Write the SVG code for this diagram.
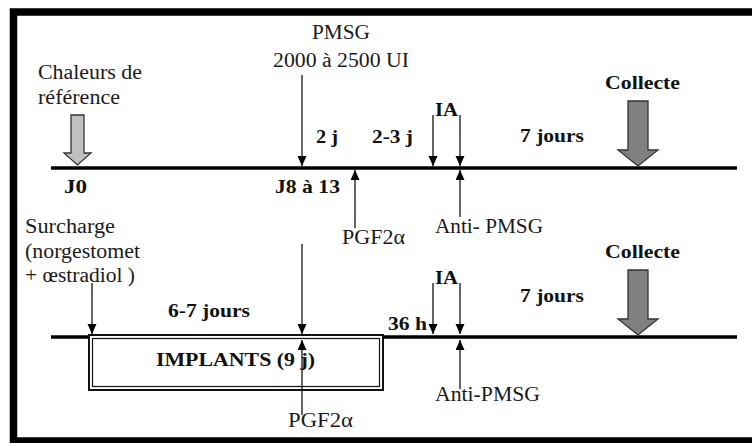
<svg xmlns="http://www.w3.org/2000/svg" width="752" height="443" viewBox="0 0 752 443">
<style>
.n{font-family:"Liberation Serif","Times New Roman",serif;font-size:20px;fill:#1a1a1a}
.b{font-family:"Liberation Serif","Times New Roman",serif;font-size:19px;font-weight:bold;fill:#111}
.tl{stroke:#000;stroke-width:3.5}
.ar{stroke:#333;stroke-width:1.5;fill:none}
.dn{marker-end:url(#ah)}
</style>
<defs>
<marker id="ah" markerUnits="userSpaceOnUse" markerWidth="11" markerHeight="10" refX="10" refY="4.5" orient="auto">
<path d="M0,0 L10,4.5 L0,9 z" fill="#000"/>
</marker>
</defs>
<rect x="0" y="0" width="752" height="443" fill="#fff"/>
<rect id="frame" x="13.5" y="12" width="760" height="429" fill="none" stroke="#000" stroke-width="7.5"/>

<g id="timeline-top">
<line class="tl" x1="51" y1="168" x2="737" y2="168"/>
</g>
<g id="timeline-bottom">
<line class="tl" x1="51" y1="337" x2="89" y2="337"/>
<line class="tl" x1="383" y1="337" x2="737" y2="337"/>
</g>

<g id="connectors">
<line class="ar dn" x1="302" y1="75" x2="302" y2="166"/>
<line class="ar dn" x1="355" y1="228" x2="355" y2="170"/>
<line class="ar dn" x1="433" y1="115" x2="433" y2="166"/>
<line class="ar dn" x1="460" y1="115" x2="460" y2="166"/>
<line class="ar dn" x1="460" y1="217" x2="460" y2="170"/>
<line class="ar dn" x1="92" y1="283" x2="92" y2="334"/>
<line class="ar dn" x1="302" y1="244" x2="302" y2="334"/>
<line class="ar dn" x1="302" y1="415" x2="302" y2="340"/>
<line class="ar dn" x1="433" y1="283" x2="433" y2="334"/>
<line class="ar dn" x1="460" y1="283" x2="460" y2="334"/>
<line class="ar dn" x1="460" y1="389" x2="460" y2="340"/>
</g>

<g id="chaleurs">
<text class="n" x="38" y="79" textLength="104" lengthAdjust="spacingAndGlyphs">Chaleurs de</text>
<text class="n" x="38" y="104" textLength="82" lengthAdjust="spacingAndGlyphs">référence</text>
<path d="M71,115 H84 V153 H91 L77.5,165 L64,153 H71 Z" fill="#c0c0c0" stroke="#333" stroke-width="1.3"/>
</g>

<g id="pmsg">
<text class="n" x="312" y="39" textLength="58" lengthAdjust="spacingAndGlyphs">PMSG</text>
<text class="n" x="273" y="67" textLength="136" lengthAdjust="spacingAndGlyphs">2000 à 2500 UI</text>
</g>

<g id="labels-top">
<text class="b" x="316" y="143" textLength="22" lengthAdjust="spacingAndGlyphs">2 j</text>
<text class="b" x="372" y="143" textLength="41" lengthAdjust="spacingAndGlyphs">2-3 j</text>
<text class="b" x="435" y="116" textLength="23" lengthAdjust="spacingAndGlyphs">IA</text>
<text class="b" x="520" y="142" textLength="64" lengthAdjust="spacingAndGlyphs">7 jours</text>
<text class="b" x="64" y="193" textLength="23" lengthAdjust="spacingAndGlyphs">J0</text>
<text class="b" x="275" y="193" textLength="65" lengthAdjust="spacingAndGlyphs">J8 à 13</text>
<text class="n" x="342" y="244" textLength="63" lengthAdjust="spacingAndGlyphs">PGF2α</text>
<text class="n" x="435" y="233" textLength="108" lengthAdjust="spacingAndGlyphs">Anti- PMSG</text>
</g>

<g id="collecte-top">
<text class="b" x="605" y="89" textLength="75" lengthAdjust="spacingAndGlyphs">Collecte</text>
<path d="M628,101 H648 V150 H658 L638,166 L618,150 H628 Z" fill="#808080" stroke="#333" stroke-width="1.3"/>
</g>

<g id="surcharge">
<text class="n" x="25" y="233" textLength="90" lengthAdjust="spacingAndGlyphs">Surcharge</text>
<text class="n" x="25" y="258" textLength="115" lengthAdjust="spacingAndGlyphs">(norgestomet</text>
<text class="n" x="25" y="282" textLength="110" lengthAdjust="spacingAndGlyphs">+ œstradiol )</text>
</g>

<g id="implants">
<rect x="89" y="335" width="294" height="55" fill="none" stroke="#111" stroke-width="2"/>
<rect x="92.5" y="338.5" width="287" height="48" fill="none" stroke="#111" stroke-width="1.2"/>
<text class="b" x="156" y="366" textLength="159" lengthAdjust="spacingAndGlyphs">IMPLANTS (9 j)</text>
</g>

<g id="labels-bottom">
<text class="b" x="168" y="317" textLength="82" lengthAdjust="spacingAndGlyphs">6-7 jours</text>
<text class="b" x="388" y="330" textLength="39" lengthAdjust="spacingAndGlyphs">36 h</text>
<text class="b" x="435" y="284" textLength="23" lengthAdjust="spacingAndGlyphs">IA</text>
<text class="b" x="520" y="302" textLength="64" lengthAdjust="spacingAndGlyphs">7 jours</text>
<text class="n" x="288" y="427" textLength="65" lengthAdjust="spacingAndGlyphs">PGF2α</text>
<text class="n" x="435" y="401" textLength="105" lengthAdjust="spacingAndGlyphs">Anti-PMSG</text>
</g>

<g id="collecte-bottom">
<text class="b" x="605" y="258" textLength="75" lengthAdjust="spacingAndGlyphs">Collecte</text>
<path d="M628,270 H648 V319 H658 L638,335 L618,319 H628 Z" fill="#808080" stroke="#333" stroke-width="1.3"/>
</g>
</svg>
